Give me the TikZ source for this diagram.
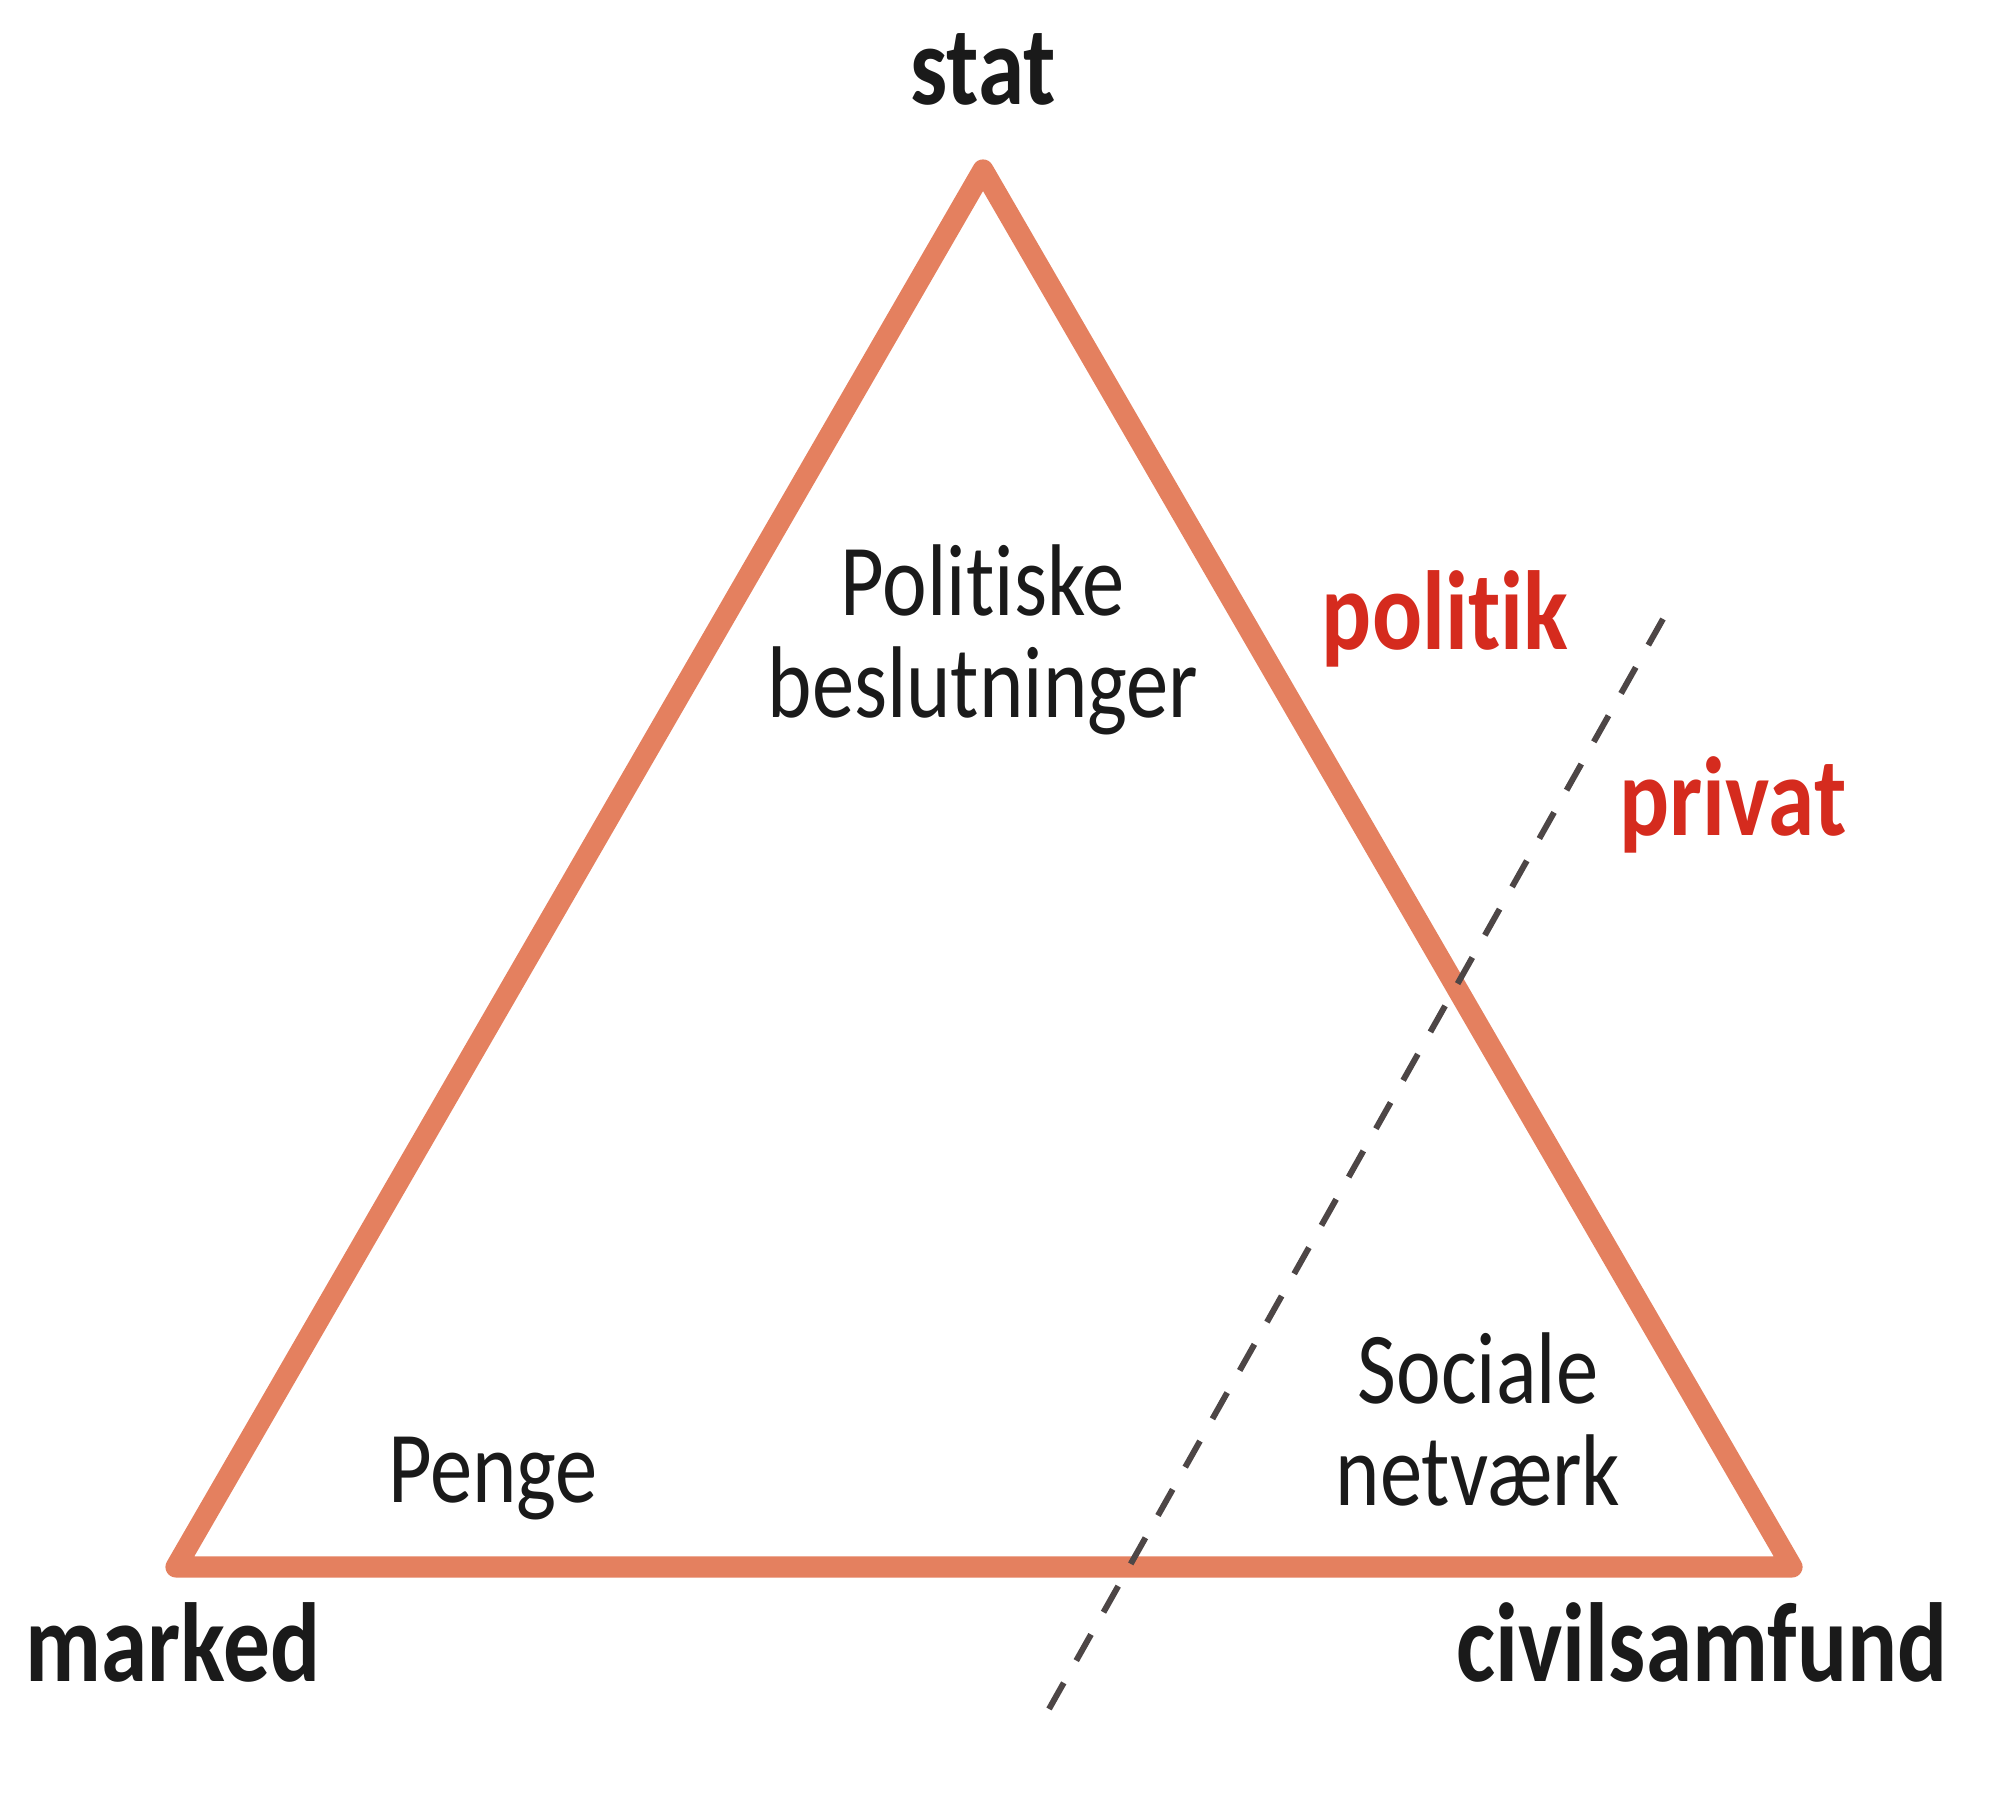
\documentclass[tikz,border=0pt]{standalone}
\usepackage{fontspec}
\setmainfont{Carlito}[FakeStretch=0.83, Ligatures=NoCommon]
\definecolor{TriangleSalmon}{HTML}{E4805F}
\definecolor{SplitRed}{HTML}{D52B1E}
\definecolor{SplitGray}{HTML}{4D4646}
\definecolor{LabelBlack}{HTML}{1A1A1A}

\begin{document}
\begin{tikzpicture}[
    corner/.style={font=\fontsize{32}{34}\selectfont\bfseries, text=LabelBlack, anchor=base, inner sep=0pt},
    area/.style={font=\fontsize{29}{29.3}\selectfont, text=LabelBlack, anchor=base, align=center, inner sep=0pt},
    sphere/.style={font=\fontsize{32}{34}\selectfont\bfseries, text=SplitRed, anchor=base, inner sep=0pt}
  ]
                \useasboundingbox (0,0) rectangle (20,17.93);

                % Corners
                \coordinate (top) at (9.83, 16.23);
                \coordinate (left) at (1.76, 2.26);
                \coordinate (right) at (17.92, 2.26);

                % Divide
                \coordinate (divtop) at (16.63, 11.74);
                \coordinate (divbottom) at (10.49, 0.84);

                % Triangle
                \draw[TriangleSalmon, line width=6pt, line join=round] (top) -- (left) -- (right) -- cycle;
                \draw[SplitGray, line width=1.7pt, dash pattern=on 0.3cm off 0.255cm] (divtop) -- (divbottom);

                % Labels
                \node[corner] (stat) at (9.83, 16.88) {stat};
                \node[corner] (marked) at (1.73, 1.11) {marked};
                \node[corner] (civil) at (17.02, 1.11) {civilsamfund};

                \node[sphere] (politik) at (14.45, 11.43) {politik};
                \node[sphere] (privat) at (17.33, 9.57) {privat};

                % last line sits on the base
                \node[area] (beslut) at (9.83, 10.75) {Politiske\\beslutninger};
                \node[area] (penge) at (4.93, 2.90) {Penge};
                \node[area] (netv) at (14.78, 2.87) {Sociale\\netværk};
\end{tikzpicture}
\end{document}
